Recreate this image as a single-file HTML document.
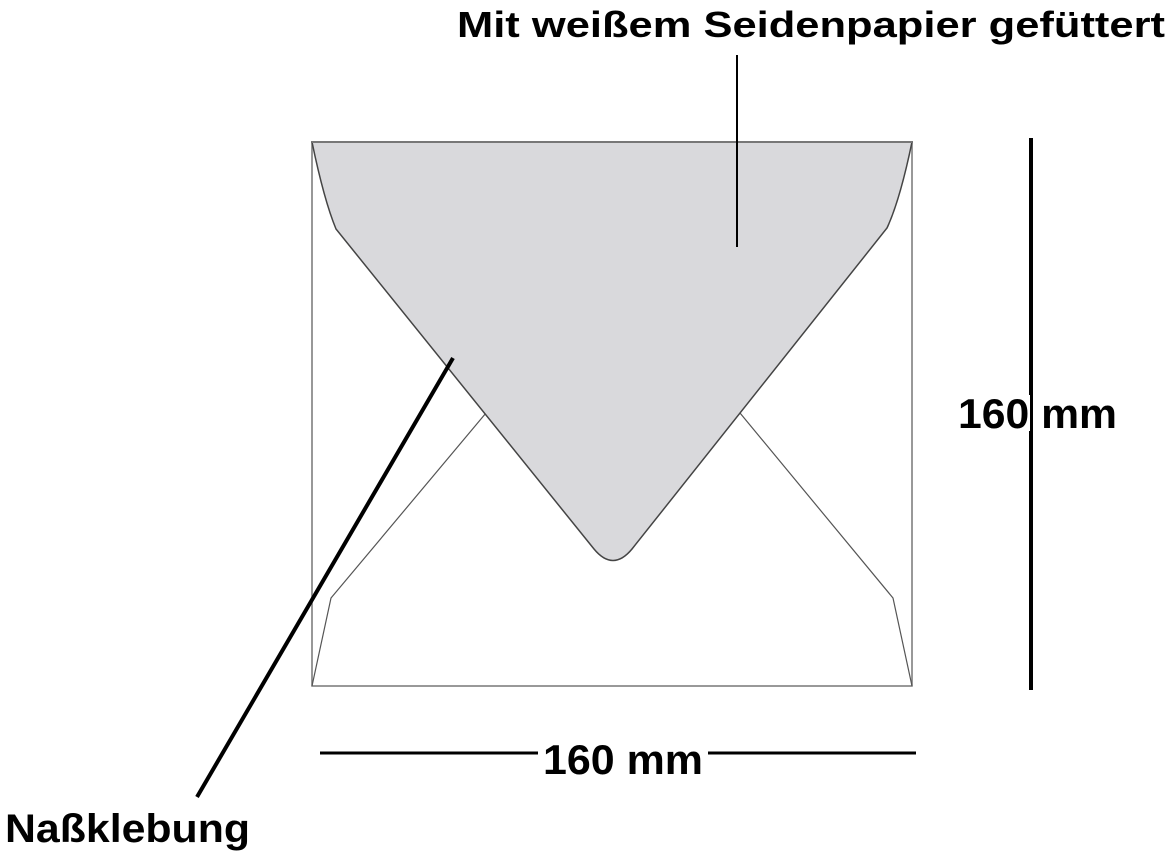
<!DOCTYPE html>
<html><head><meta charset="utf-8"><style>
html,body{margin:0;padding:0;background:#fff;}
svg{display:block;}
text{font-family:"Liberation Sans",Arial,sans-serif;font-weight:bold;fill:#000;}
</style></head><body>
<svg width="1170" height="853" viewBox="0 0 1170 853">
  <rect x="312" y="142" width="600" height="544" fill="#fff" stroke="#777" stroke-width="1.5"/>
  <path d="M312,686 Q322,640 331,598 L486,413" fill="none" stroke="#555" stroke-width="1.2"/>
  <path d="M912,686 Q902,640 893,598 L740,413" fill="none" stroke="#555" stroke-width="1.2"/>
  <path d="M312,142 L912,142 Q900,200 887,228 L632,549 Q613,572 594,549 L336,229 Q324,200 312,142 Z" fill="#d9d9dc" stroke="#444" stroke-width="1.5"/>
  <line x1="312" y1="142" x2="912" y2="142" stroke="#777" stroke-width="2"/>
  <text x="457" y="37" font-size="36" textLength="708" lengthAdjust="spacingAndGlyphs">Mit weißem Seidenpapier gefüttert</text>
  <line x1="737" y1="55" x2="737" y2="247" stroke="#000" stroke-width="2"/>
  <line x1="1031" y1="138" x2="1031" y2="690" stroke="#000" stroke-width="4"/>
  <rect x="958" y="395" width="72" height="36" fill="#fff"/>
  <text x="958" y="428" font-size="42" textLength="159" lengthAdjust="spacingAndGlyphs">160 mm</text>
  <line x1="320" y1="753" x2="916" y2="753" stroke="#000" stroke-width="3"/>
  <rect x="538" y="735" width="170" height="44" fill="#fff"/>
  <text x="543" y="774" font-size="42" textLength="160" lengthAdjust="spacingAndGlyphs">160 mm</text>
  <line x1="453" y1="358" x2="197" y2="797" stroke="#000" stroke-width="4"/>
  <text x="5" y="842" font-size="40" textLength="245" lengthAdjust="spacingAndGlyphs">Naßklebung</text>
</svg>
</body></html>
